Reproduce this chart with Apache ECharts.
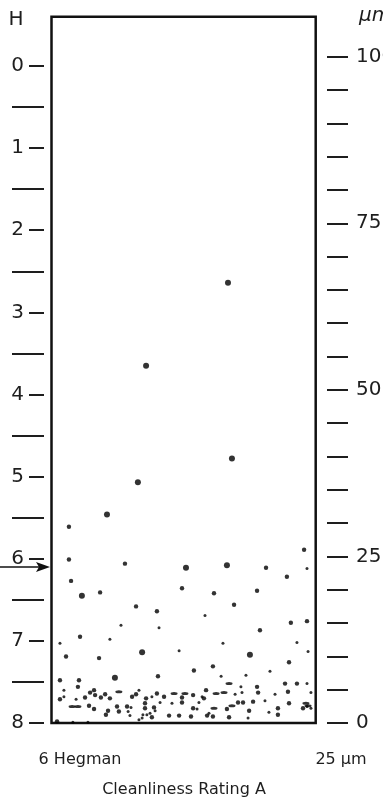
<!DOCTYPE html>
<html>
<head>
<meta charset="utf-8">
<script src="https://cdn.jsdelivr.net/npm/echarts@6/dist/echarts.min.js"></script>
<style>
  html, body { margin: 0; padding: 0; background: #fff; }
  #chart { width: 383px; height: 805px; }
</style>
</head>
<body>
<div id="chart"></div>
<script>
// Hegman fineness gauge: particle streaks along the gauge channel.
// Each particle is [position across channel (0-100 %), Hegman reading].

const hegmanMajor = [0, 1, 2, 3, 4, 5, 6, 7, 8];
const hegmanMinor = [0.5, 1.5, 2.5, 3.5, 4.5, 5.5, 6.5, 7.5];
const micronTicks = [0, 5, 10, 15, 20, 25, 30, 35, 40, 45, 50, 55, 60, 65, 70, 75, 80, 85, 90, 95, 100];
const micronLabels = [0, 25, 50, 75, 100];

// reading where the particles start to appear
const reading = 6.1;

const coarseParticles = [
  [66.8, 2.64], [35.8, 3.65], [68.3, 4.78], [32.7, 5.07], [21.0, 5.46],
  [50.9, 6.11], [66.4, 6.08], [11.5, 6.45], [34.3, 7.14], [75.1, 7.17], [24.0, 7.45]
];

const mediumParticles = [
  [6.6, 5.61], [95.6, 5.89], [6.6, 6.01], [27.8, 6.06], [81.2, 6.11], [7.4, 6.27],
  [89.1, 6.22], [18.4, 6.41], [49.4, 6.36], [61.5, 6.42], [77.8, 6.39], [32.0, 6.58],
  [39.9, 6.64], [69.1, 6.56], [78.9, 6.87], [90.6, 6.78], [96.7, 6.76], [10.8, 6.95],
  [5.5, 7.19], [18.0, 7.21], [89.9, 7.26], [61.1, 7.31], [53.9, 7.36], [3.2, 7.48],
  [10.4, 7.48], [40.3, 7.43], [10.0, 7.56], [77.8, 7.56], [88.4, 7.52], [92.9, 7.52],
  [14.6, 7.63], [16.1, 7.60], [32.0, 7.65], [39.9, 7.64], [42.6, 7.68], [53.6, 7.66],
  [58.5, 7.60], [78.2, 7.63], [89.5, 7.62], [3.2, 7.71], [12.7, 7.69], [16.5, 7.66],
  [18.7, 7.69], [20.3, 7.65], [22.1, 7.70], [30.5, 7.68], [35.8, 7.70], [49.4, 7.69],
  [49.4, 7.75], [57.7, 7.70], [70.6, 7.75], [72.5, 7.75], [76.3, 7.74], [89.9, 7.76],
  [14.2, 7.79], [16.1, 7.83], [21.4, 7.85], [24.8, 7.80], [28.6, 7.80], [25.5, 7.86],
  [35.4, 7.76], [35.4, 7.82], [38.8, 7.81], [20.6, 7.90], [38.0, 7.93], [44.5, 7.91],
  [48.3, 7.91], [52.8, 7.92], [53.6, 7.82], [58.9, 7.91], [61.1, 7.92], [66.4, 7.83],
  [67.2, 7.93], [74.8, 7.85], [85.7, 7.90], [85.7, 7.82], [95.2, 7.82], [2.1, 7.98]
];

const fineParticles = [
  [96.7, 6.12], [58.1, 6.69], [26.3, 6.81], [40.7, 6.84], [3.2, 7.03], [22.1, 6.98],
  [64.9, 7.03], [92.9, 7.02], [48.3, 7.12], [97.1, 7.13], [82.7, 7.37], [64.2, 7.43],
  [73.6, 7.42], [4.7, 7.60], [71.7, 7.56], [96.7, 7.52], [33.1, 7.60], [57.0, 7.68],
  [69.5, 7.65], [72.1, 7.63], [84.6, 7.65], [98.2, 7.63], [4.7, 7.68], [9.3, 7.71],
  [38.0, 7.68], [45.6, 7.76], [55.8, 7.75], [80.8, 7.73], [96.7, 7.80], [30.1, 7.81],
  [29.0, 7.86], [39.2, 7.85], [37.3, 7.88], [41.1, 7.75], [29.7, 7.91], [34.6, 7.90],
  [36.1, 7.90], [33.1, 7.96], [34.3, 7.94], [55.1, 7.83], [59.6, 7.88], [74.4, 7.94],
  [82.3, 7.87], [98.2, 7.82], [8.1, 7.99], [13.8, 7.99]
];

const streakParticles = [
  [67.2, 7.52], [25.5, 7.62], [46.4, 7.64], [50.5, 7.64], [62.3, 7.64], [65.3, 7.63],
  [68.3, 7.79], [96.3, 7.76], [7.8, 7.80], [10.0, 7.80], [61.5, 7.82], [97.1, 7.79]
];

const INK = '#111';
const TEXT = '#1e1e1e';
const FONT = '"DejaVu Sans", Verdana, sans-serif';

const chart = echarts.init(document.getElementById('chart'), null, { renderer: 'canvas' });

function particleSeries(data, size) {
  return {
    type: 'scatter',
    data: data,
    xAxisIndex: 0,
    yAxisIndex: 0,
    symbol: 'circle',
    symbolSize: size,
    itemStyle: { color: '#000' },
    clip: false,
    silent: true,
    animation: false
  };
}

// shared settings of the two Hegman axes (labelled units and half-unit ticks)
const hegmanBase = {
  type: 'value',
  position: 'left',
  min: -0.6,
  max: 8,
  inverse: true,
  offset: 7.5,
  axisLine: { show: false, onZero: false },
  splitLine: { show: false }
};

chart.setOption({
  animation: false,
  backgroundColor: '#fff',
  grid: {
    left: 51.5,
    right: 67.3,
    top: 16.7,
    bottom: 82,
    outerBoundsMode: 'none',
    containLabel: false,
    show: true,
    borderColor: INK,
    borderWidth: 2.5,
    backgroundColor: 'transparent'
  },
  xAxis: {
    type: 'value',
    min: 0,
    max: 100,
    show: false,
    axisLine: { onZero: false }
  },
  yAxis: [
    Object.assign({}, hegmanBase, {
      axisTick: {
        show: true,
        customValues: hegmanMajor,
        length: 15,
        lineStyle: { color: TEXT, width: 2 }
      },
      axisLabel: {
        show: true,
        customValues: hegmanMajor,
        margin: 20,
        color: TEXT,
        fontFamily: FONT,
        fontSize: 20
      }
    }),
    Object.assign({}, hegmanBase, {
      axisTick: {
        show: true,
        customValues: hegmanMinor,
        length: 32,
        lineStyle: { color: TEXT, width: 2 }
      },
      axisLabel: { show: false }
    }),
    {
      type: 'value',
      position: 'right',
      min: 0,
      max: 106,
      offset: 11.3,
      axisLine: { show: false, onZero: false },
      splitLine: { show: false },
      axisTick: {
        show: true,
        customValues: micronTicks,
        length: 21,
        lineStyle: { color: TEXT, width: 2 }
      },
      axisLabel: {
        show: true,
        customValues: micronLabels,
        margin: 29,
        color: TEXT,
        fontFamily: FONT,
        fontSize: 20,
        hideOverlap: false
      }
    }
  ],
  series: [
    particleSeries(coarseParticles, 6),
    particleSeries(mediumParticles, 4.4),
    particleSeries(fineParticles, 3),
    particleSeries(streakParticles, [7, 3])
  ],
  graphic: [
    { type: 'text', x: 16, y: 20, style: { text: 'H', font: '20px ' + FONT, fill: TEXT, align: 'center', verticalAlign: 'middle' } },
    { type: 'text', x: 359, y: 16, style: { text: 'μm', font: 'italic 20px ' + FONT, fill: TEXT, align: 'left', verticalAlign: 'middle' } },
    { type: 'text', x: 80, y: 760, style: { text: '6 Hegman', font: '16px ' + FONT, fill: TEXT, align: 'center', verticalAlign: 'middle' } },
    { type: 'text', x: 341, y: 760, style: { text: '25 μm', font: '16px ' + FONT, fill: TEXT, align: 'center', verticalAlign: 'middle' } },
    { type: 'text', x: 184, y: 790, style: { text: 'Cleanliness Rating A', font: '16px ' + FONT, fill: TEXT, align: 'center', verticalAlign: 'middle' } }
  ]
});

// Reading arrow: drawn from the left page edge to the gauge wall at the reading.
const wall = chart.convertToPixel({ xAxisIndex: 0 }, 0);
const ry = chart.convertToPixel({ yAxisIndex: 0 }, reading);
const tipX = wall - 1.5;
chart.setOption({
  graphic: [
    { id: 'arrowShaft', type: 'line', silent: true,
      shape: { x1: 0, y1: ry, x2: tipX - 10, y2: ry },
      style: { stroke: INK, lineWidth: 1.6 } },
    { id: 'arrowHead', type: 'polygon', silent: true,
      shape: { points: [[tipX, ry], [tipX - 14, ry - 5], [tipX - 11, ry], [tipX - 14, ry + 5]] },
      style: { fill: INK } }
  ]
});
</script>
</body>
</html>
